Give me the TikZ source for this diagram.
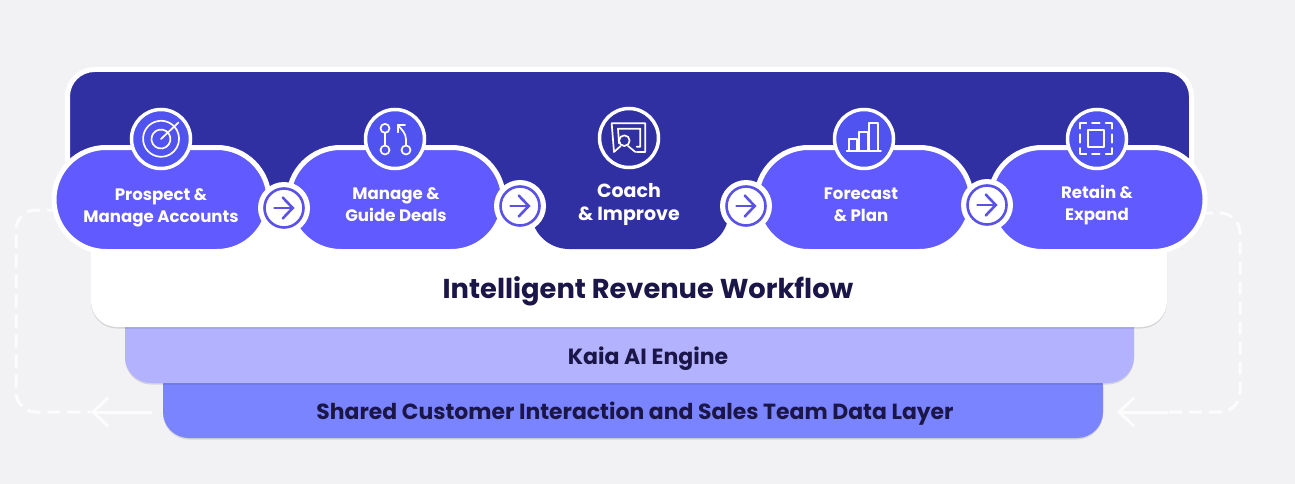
\documentclass[tikz,border=0pt]{standalone}
\usepackage{fontspec}
\setmainfont{Poppins}
\usetikzlibrary{shapes.misc,shadows,arrows.meta}
\definecolor{bgc}{HTML}{F2F1F4}
\definecolor{darkp}{HTML}{3130A3}
\definecolor{pillc}{HTML}{615AFF}
\definecolor{iconc}{HTML}{5053F0}
\definecolor{ringc}{HTML}{5A52E6}
\definecolor{laya}{HTML}{B2B2FF}
\definecolor{layb}{HTML}{7A84FF}
\definecolor{inkc}{HTML}{1B1648}
\tikzset{
  softshadow/.style={drop shadow={shadow xshift=0pt,shadow yshift=-1.5pt,opacity=.12,fill=black}},
  layerbox/.style={rectangle,rounded corners=26pt,inner sep=0pt,outer sep=0pt,softshadow},
  pillbox/.style={rounded rectangle,fill=pillc,draw=white,line width=5pt,minimum width=215pt,minimum height=104pt,inner sep=0pt,outer sep=0pt},
  pilltext/.style={align=center,text=white,font=\fontsize{16.6}{22}\selectfont\bfseries,inner sep=0pt},
  bigtext/.style={align=center,text=white,font=\fontsize{19}{23}\selectfont\bfseries,inner sep=0pt},
  layertext/.style={text=inkc,inner sep=0pt},
  iconcirc/.style={circle,fill=iconc,draw=white,line width=3.5pt,minimum size=59pt,inner sep=0pt,outer sep=0pt},
  haloc/.style={circle,fill=white,minimum size=52pt,inner sep=0pt,outer sep=0pt},
  ringn/.style={circle,draw=ringc,fill=white,line width=2.6pt,minimum size=39pt,inner sep=0pt,outer sep=0pt},
  nextarrow/.style={draw=ringc,line width=2.6pt,line cap=round,-{Straight Barb[length=10pt,width=21pt,line cap=round]}},
  iconline/.style={draw=white,line width=1.7pt,line cap=round,line join=round},
  loopdash/.style={draw=white,opacity=.8,line width=3pt,dash pattern=on 13pt off 7pt,rounded corners=20pt},
  loopsolid/.style={draw=white,opacity=.8,line width=3pt,-{Straight Barb[length=15pt,width=29pt]}},
}
\begin{document}
\begin{tikzpicture}[x=1pt,y=-1pt]
\useasboundingbox (0,0) rectangle (1295,484);
\fill[bgc] (0,0) rectangle (1295,484);
% free ends of the loop
\coordinate (lstart) at (60,210);
\coordinate (lcorner) at (16,210);
\coordinate (lbottom) at (16,412);
\coordinate (lsplit) at (91,412);
\coordinate (ltail) at (152,412);
\coordinate (rstart) at (1200,213);
\coordinate (rcorner) at (1240,213);
\coordinate (rbottom) at (1240,412);
\coordinate (rsplit) at (1168,412);
\coordinate (rtip) at (1117,412);
\draw[loopdash] (lstart) -- (lcorner) -- (lbottom) -- (lsplit);
\draw[loopsolid] (ltail) -- (lsplit);
\draw[loopdash] (rstart) -- (rcorner) -- (rbottom) -- (rsplit);
\draw[loopsolid] (rsplit) -- (rtip);
% stacked layers
\node[layerbox,fill=layb,minimum width=940pt,minimum height=78pt] (data) at (633,399) {};
\node[layerbox,fill=laya,minimum width=1009pt,minimum height=83pt] (engine) at (629.5,341.5) {};
\node[layerbox,fill=white,minimum width=1076pt,minimum height=147pt] (card) at (629,253.5) {};
% dark panel
\filldraw[fill=darkp,draw=white,line width=5pt,rounded corners=27pt] (67.5,208) -- (67.5,69.5) -- (1191.5,69.5) -- (1191.5,208) -- cycle;
\fill[darkp,rounded corners=38pt] (531,180) -- (531,249) -- (729,249) -- (729,180) -- cycle;
% pills
\node[pillbox] (p1) at (161.5,199.5) {};
\node[pillbox] (p2) at (396,199.5) {};
\node[pillbox] (p4) at (864,199.5) {};
\node[pillbox] (p5) at (1097.5,199.5) {};
% texts
\node[pilltext] (t1) at (161,207.5) {Prospect \&\\Manage Accounts};
\node[pilltext] (t2) at (396,205) {Manage \&\\Guide Deals};
\node[bigtext] (t3) at (629,204) {Coach\\\& Improve};
\node[pilltext] (t4) at (861,205) {Forecast\\\& Plan};
\node[pilltext] (t5) at (1097,205) {Retain \&\\Expand};
\node[layertext,font=\fontsize{27.3}{32}\selectfont\bfseries] (tc) at (648,291.5) {Intelligent Revenue Workflow};
\node[layertext,font=\fontsize{22}{26}\selectfont\bfseries] (te) at (648,359) {Kaia AI Engine};
\node[layertext,font=\fontsize{21.9}{26}\selectfont\bfseries] (td) at (635,414) {Shared Customer Interaction and Sales Team Data Layer};
% icon circles
\node[iconcirc] (i1) at (161,139) {};
\node[iconcirc] (i2) at (395,139) {};
\node[iconcirc,fill=darkp] (i3) at (629,138) {};
\node[iconcirc] (i4) at (864,139) {};
\node[iconcirc] (i5) at (1097,139) {};
% target icon
\begin{scope}[shift={(i1.center)},iconline]
\draw (15.5,-9.5) arc (-31:-360+(-55):18);
\draw (8,-5) arc (-32:-360+(-60):9.5);
\draw (0,0) -- (17.5,-16.5);
\end{scope}
% branch icon
\begin{scope}[shift={(355,100)},x=.3333pt,y=-.3333pt,iconline]
\draw (90,85) circle[radius=13.5];
\draw (90,150) circle[radius=13.5];
\draw (153,150) circle[radius=13.5];
\draw (90,99) -- (90,136);
\draw (153,136) -- (153,118) .. controls (153,100) and (140,88) .. (128,75);
\draw (128,97) -- (128,75) -- (150,75);
\end{scope}
% coach icon
\begin{scope}[shift={(590,100)},x=.3333pt,y=-.3333pt,iconline]
\draw (140,156) -- (166,156) -- (166,70) -- (65,70) -- (72,156) -- (92,138);
\draw (114,138) -- (136,156);
\draw (140,140) -- (151,140) -- (151,86) -- (84,86) -- (87,130);
\draw (103,122) circle[radius=16];
\end{scope}
% bars icon
\begin{scope}[shift={(825,100)},x=.3333pt,y=-.3333pt,iconline]
\draw (65,152) -- (168,152);
\draw (72,152) -- (72,118) -- (97,118) -- (97,152);
\draw (103,152) -- (103,97) -- (128,97) -- (128,152);
\draw (133,152) -- (133,70) -- (158,70) -- (158,152);
\end{scope}
% frame icon
\begin{scope}[shift={(1057,100)},x=.3333pt,y=-.3333pt,iconline]
\draw (92,90) rectangle (142,140);
\draw (70,86) -- (70,68) -- (88,68);
\draw (105,68) -- (128,68);
\draw (146,68) -- (165,68) -- (165,86);
\draw (70,103) -- (70,128);
\draw (165,103) -- (165,128);
\draw (70,144) -- (70,162) -- (88,162);
\draw (105,162) -- (128,162);
\draw (146,162) -- (165,162) -- (165,144);
\end{scope}
% arrow circles
\node[haloc] (a1) at (284,208) {};
\node[haloc] (a2) at (520,206) {};
\node[haloc] (a3) at (746,206) {};
\node[haloc] (a4) at (987,205) {};
\node[ringn] (r1) at (a1) {};
\node[ringn] (r2) at (a2) {};
\node[ringn] (r3) at (a3) {};
\node[ringn] (r4) at (a4) {};
\draw[nextarrow] ([xshift=-9.5pt]r1.center) -- ([xshift=10.5pt]r1.center);
\draw[nextarrow] ([xshift=-9.5pt]r2.center) -- ([xshift=10.5pt]r2.center);
\draw[nextarrow] ([xshift=-9.5pt]r3.center) -- ([xshift=10.5pt]r3.center);
\draw[nextarrow] ([xshift=-9.5pt]r4.center) -- ([xshift=10.5pt]r4.center);
\end{tikzpicture}
\end{document}
